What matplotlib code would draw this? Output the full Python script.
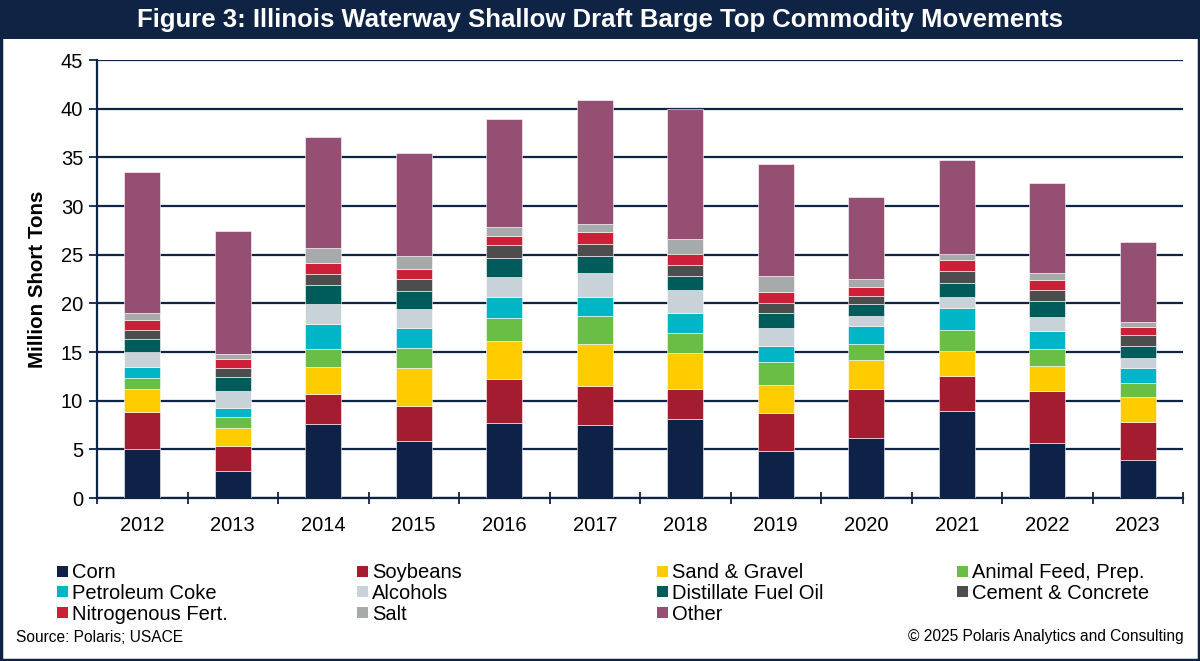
import matplotlib
matplotlib.use("Agg")
import matplotlib.pyplot as plt
from matplotlib.patches import Rectangle
import numpy as np

plt.rcParams['font.family'] = ['Liberation Sans', 'DejaVu Sans']

years = ["2012", "2013", "2014", "2015", "2016", "2017", "2018", "2019", "2020", "2021", "2022", "2023"]
commodities = ["Corn", "Soybeans", "Sand & Gravel", "Animal Feed, Prep.",
               "Petroleum Coke", "Alcohols", "Distillate Fuel Oil", "Cement & Concrete",
               "Nitrogenous Fert.", "Salt", "Other"]

corn = [5.03, 2.81, 7.57, 5.82, 7.71, 7.53, 8.08, 4.79, 6.16, 8.94, 5.68, 3.90]
soybeans = [3.77, 2.53, 3.11, 3.63, 4.48, 3.98, 3.15, 3.91, 5.00, 3.63, 5.31, 3.87]
sand_gravel = [2.36, 1.89, 2.78, 3.94, 3.94, 4.31, 3.63, 2.88, 3.02, 2.53, 2.57, 2.61]
animal_feed = [1.13, 1.13, 1.85, 2.06, 2.36, 2.88, 2.09, 2.36, 1.68, 2.19, 1.75, 1.40]
petroleum_coke = [1.16, 0.89, 2.57, 1.98, 2.13, 1.98, 2.02, 1.64, 1.78, 2.23, 1.81, 1.54]
alcohols = [1.55, 1.78, 2.09, 1.95, 2.12, 2.47, 2.43, 1.92, 1.09, 1.16, 1.48, 1.10]
distillate = [1.30, 1.37, 1.91, 1.89, 1.95, 1.75, 1.44, 1.54, 1.17, 1.41, 1.61, 1.23]
cement = [0.99, 0.92, 1.13, 1.20, 1.27, 1.23, 1.13, 0.96, 0.85, 1.27, 1.19, 1.10]
nitrogenous = [0.96, 0.96, 1.10, 1.06, 0.96, 1.23, 1.10, 1.16, 0.89, 1.06, 1.00, 0.85]
salt = [0.75, 0.55, 1.54, 1.30, 0.92, 0.76, 1.51, 1.68, 0.89, 0.65, 0.75, 0.52]
other = [14.46, 12.60, 11.41, 10.65, 11.10, 12.74, 13.35, 11.48, 8.36, 9.62, 9.21, 8.15]

series = [corn, soybeans, sand_gravel, animal_feed, petroleum_coke, alcohols,
          distillate, cement, nitrogenous, salt, other]
colors = ["#0e2146", "#a31c2f", "#ffcc00", "#6abd45", "#00b5c6", "#c9d1d9",
          "#005b5b", "#4d4d4d", "#cd2038", "#a6aaab", "#954f72"]

yticks = [0, 5, 10, 15, 20, 25, 30, 35, 40, 45]
navy = "#0f2444"

W, H = 1200, 661
fig = plt.figure(figsize=(12, 6.61), dpi=100)

# title bar
fig.add_artist(Rectangle((0, 1 - 39 / H), 1, 39 / H, transform=fig.transFigure,
                         facecolor=navy, edgecolor="none", zorder=0))
fig.text(0.5, 1 - 19.5 / H, "Figure 3: Illinois Waterway Shallow Draft Barge Top Commodity Movements",
         color="white", fontsize=18.5, fontweight="bold", ha="center", va="center")
# border
fig.add_artist(Rectangle((0.001, 0.0015), 0.998, 0.997, transform=fig.transFigure,
                         facecolor="none", edgecolor=navy, linewidth=2.5, zorder=10))

ax_l, ax_r, ax_t, ax_b = 97, 1183, 60, 498
ax = fig.add_axes([ax_l / W, 1 - ax_b / H, (ax_r - ax_l) / W, (ax_b - ax_t) / H])

x = np.arange(len(years))
bottom = np.zeros(len(years))
for vals, col, name in zip(series, colors, commodities):
    v = np.array(vals)
    ax.bar(x, v, bottom=bottom, width=0.4, color=col, edgecolor="white",
           linewidth=0.4, label=name, zorder=3)
    bottom += v

ax.set_xlim(-0.5, len(years) - 0.5)
ax.set_ylim(0, 45)
ax.set_yticks(yticks)
ax.set_yticklabels([str(t) for t in yticks], fontsize=14.5)
ax.set_xticks(x)
ax.set_xticklabels(years, fontsize=14.5)
ax.set_xticks(np.arange(-0.5, len(years)), minor=True)
ax.tick_params(axis="x", which="major", length=0, pad=13)
ax.tick_params(axis="x", which="minor", length=9, width=1.3, direction="inout", color=navy)
ax.tick_params(axis="y", which="major", length=6, width=1.3, color=navy, pad=4)
ax.yaxis.grid(True, color=navy, linewidth=1.6, zorder=0)
ax.set_axisbelow(True)
for s in ["top", "right"]:
    ax.spines[s].set_visible(False)
for s in ["left", "bottom"]:
    ax.spines[s].set_color(navy)
    ax.spines[s].set_linewidth(1.6)
ax.set_ylabel("Million Short Tons", fontsize=14.8, fontweight="bold", labelpad=10)

# legend (manual grid, 4 columns x 3 rows)
col_x = [57, 357, 657, 957]
row_y = [571, 591.5, 612]
sq = 11
for i, (name, col) in enumerate(zip(commodities, colors)):
    r, c = divmod(i, 4)
    cx, cy = col_x[c], row_y[r]
    fig.add_artist(Rectangle((cx / W, 1 - (cy + sq / 2) / H), sq / W, sq / H,
                             transform=fig.transFigure, facecolor=col, edgecolor="none"))
    fig.text((cx + 15) / W, 1 - cy / H, name, fontsize=14.5, ha="left", va="center_baseline")

fig.text(16 / W, 1 - 637 / H, "Source: Polaris; USACE", fontsize=11.2, ha="left", va="center")
fig.text(1184 / W, 1 - 637 / H, "\u00a9 2025 Polaris Analytics and Consulting", fontsize=11.2,
         ha="right", va="center")

fig.savefig("out.png", dpi=100)
